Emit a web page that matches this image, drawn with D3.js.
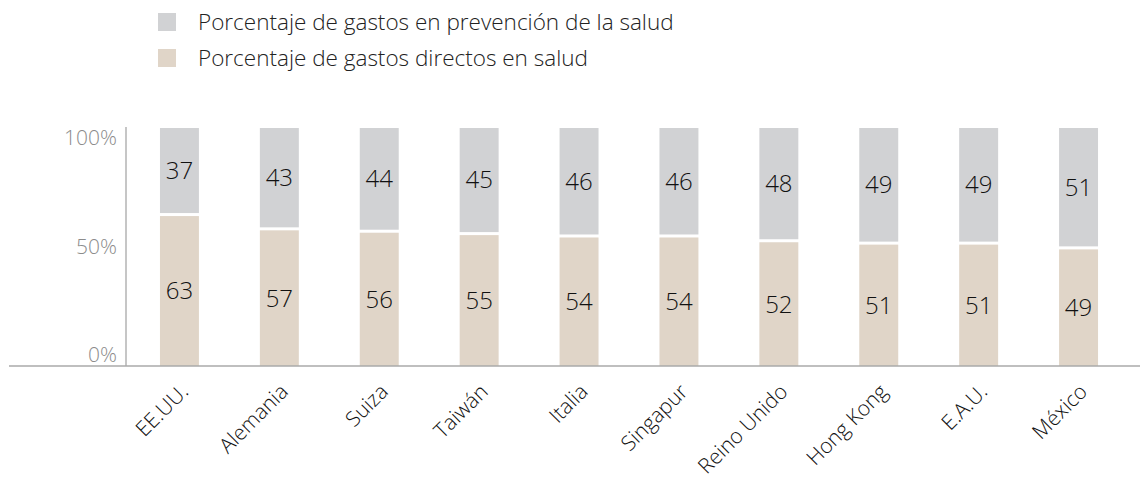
<!DOCTYPE html>
<html>
<head>
<meta charset="utf-8">
<script src="https://cdn.jsdelivr.net/npm/d3@7"></script>
<style>
  body { margin: 0; background: #fff; }
  text { font-family: "Open Sans", sans-serif; }
</style>
</head>
<body>
<div id="chart"></div>
<script>
const paises = ['EE.UU.', 'Alemania', 'Suiza', 'Taiwán', 'Italia', 'Singapur', 'Reino Unido', 'Hong Kong', 'E.A.U.', 'México'];
const directos = [63, 57, 56, 55, 54, 54, 52, 51, 51, 49];
const prevencion = [37, 43, 44, 45, 46, 46, 48, 49, 49, 51];
const ticksY = [0, 50, 100];
const seriesNombres = ['Porcentaje de gastos en prevención de la salud', 'Porcentaje de gastos directos en salud'];
const colores = ['#d1d2d4', '#e0d5c8'];

const width = 1144;
const height = 478;
const base = 366;
const gap = 3;

const svg = d3.select('#chart')
    .append('svg')
        .attr('width', width)
        .attr('height', height);

const xScale = d3.scaleBand()
    .domain(paises)
    .range([126, 1132])
    .paddingInner(0.61)
    .paddingOuter(0.34);

const yScale = d3.scaleLinear()
    .domain([0, 100])
    .range([base, 128]);

// las etiquetas del eje van un poco comprimidas respecto a las barras
const yLabel = d3.scaleLinear()
    .domain([0, 100])
    .range([355, 138]);

const datos = paises.map((p, i) => ({pais: p, directo: directos[i], prev: prevencion[i]}));

// Leyenda
const leyenda = svg.append('g');
seriesNombres.forEach((n, i) => {
    leyenda.append('rect')
        .attr('x', 158)
        .attr('y', 13 + i * 36)
        .attr('width', 18)
        .attr('height', 18)
        .attr('fill', colores[i]);
    leyenda.append('text')
        .attr('x', 198)
        .attr('y', 22 + i * 36)
        .attr('dy', '0.35em')
        .attr('font-size', '22.5px')
        .attr('font-weight', 300)
        .attr('fill', '#222')
        .text(n);
});

// Barras: gastos directos (abajo)
svg.selectAll('rect.directo')
    .data(datos)
    .enter()
    .append('rect')
        .attr('class', 'directo')
        .attr('x', d => xScale(d.pais))
        .attr('y', d => yScale(d.directo))
        .attr('width', xScale.bandwidth())
        .attr('height', d => base - yScale(d.directo))
        .attr('fill', colores[1]);

// Barras: prevencion (arriba)
svg.selectAll('rect.prev')
    .data(datos)
    .enter()
    .append('rect')
        .attr('class', 'prev')
        .attr('x', d => xScale(d.pais))
        .attr('y', d => yScale(d.directo + d.prev))
        .attr('width', xScale.bandwidth())
        .attr('height', d => yScale(d.directo) - yScale(d.directo + d.prev) - gap)
        .attr('fill', colores[0]);

// Valores
const addValores = (clase, yFn, campo) => {
    svg.selectAll('text.' + clase)
        .data(datos)
        .enter()
        .append('text')
            .attr('class', clase)
            .attr('x', d => xScale(d.pais) + xScale.bandwidth() / 2)
            .attr('y', yFn)
            .attr('dy', '0.35em')
            .attr('text-anchor', 'middle')
            .attr('font-size', '24px')
            .attr('font-weight', 300)
            .attr('fill', '#111')
            .text(d => d[campo]);
};

addValores('vdir', d => (yScale(d.directo) + base) / 2, 'directo');
addValores('vprev', d => (yScale(d.directo + d.prev) + yScale(d.directo) - gap) / 2, 'prev');

// Eje Y
svg.append('line')
    .attr('x1', 126).attr('x2', 126)
    .attr('y1', 127).attr('y2', base)
    .attr('stroke', '#b3b3b3')
    .attr('stroke-width', 1.5);

svg.selectAll('text.ytick')
    .data(ticksY)
    .enter()
    .append('text')
        .attr('class', 'ytick')
        .attr('x', 117)
        .attr('y', d => yLabel(d))
        .attr('dy', '0.35em')
        .attr('text-anchor', 'end')
        .attr('font-size', '21px')
        .attr('font-weight', 300)
        .attr('fill', '#8c8c8c')
        .text(d => d + '%');

// Eje X
svg.append('line')
    .attr('x1', 9).attr('x2', 1140)
    .attr('y1', base).attr('y2', base)
    .attr('stroke', '#aaa')
    .attr('stroke-width', 1.5);

svg.selectAll('text.xtick')
    .data(paises)
    .enter()
    .append('text')
        .attr('class', 'xtick')
        .attr('transform', d => `translate(${xScale(d) + xScale.bandwidth() / 2 + 10},${base + 27}) rotate(-45)`)
        .attr('text-anchor', 'end')
        .attr('font-size', '21px')
        .attr('font-weight', 300)
        .attr('fill', '#111')
        .text(d => d);
</script>
</body>
</html>
